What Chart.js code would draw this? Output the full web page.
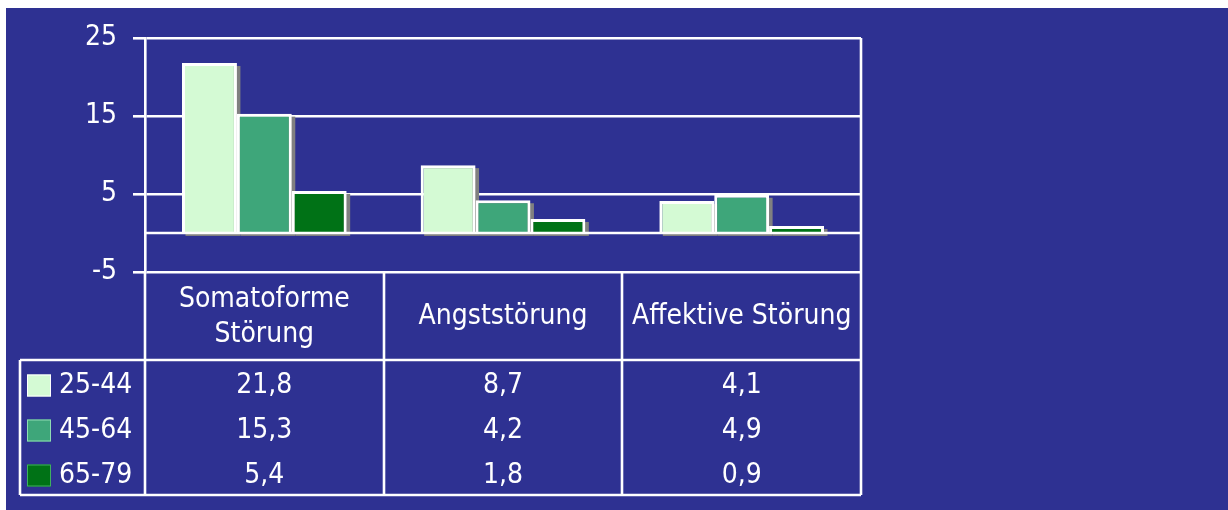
<!DOCTYPE html>
<html lang="de">
<head>
<meta charset="utf-8">
<title>Störungen nach Altersgruppe</title>
<script src="https://cdn.jsdelivr.net/npm/chart.js@4.4.0/dist/chart.umd.min.js"></script>
<style>
  body { margin: 0; background: #fff; }
  #wrap { position: absolute; left: 6px; top: 8px; width: 1222px; height: 502px; background: #2E3192; }
  #chart { display: block; }
</style>
</head>
<body>
<div id="wrap"><canvas id="chart" width="1222" height="502"></canvas></div>
<script>
// ── Data ──────────────────────────────────────────
const categories = [['Somatoforme', 'Störung'], ['Angststörung'], ['Affektive Störung']];
const ageGroups = ['25-44', '45-64', '65-79'];
const values2544 = [21.8, 8.7, 4.1];
const values4564 = [15.3, 4.2, 4.9];
const values6579 = [5.4, 1.8, 0.9];
const yMin = -5, yMax = 25, yStep = 10;

const seriesValues = [values2544, values4564, values6579];
const colors = ['#D4FAD4', '#3EA67A', '#007216'];
const swatchBorders = ['#ffffff', '#8fdcb4', '#3fb060'];

const FONT = '"DejaVu Sans Condensed", "DejaVu Sans", sans-serif';
const FONT_SIZE = 28;
const LINE_W = 2.6;
const HEADER_H = 88;
const ROW_H = 45;
const ROW_LEFT = 14;

function fmt(v) {
  return v.toFixed(1).replace('.', ',');
}

// ── Bar shadows ───────────────────────────────────
const shadowPlugin = {
  id: 'barShadow',
  beforeDatasetsDraw(chart) {
    const ctx = chart.ctx;
    ctx.save();
    ctx.fillStyle = '#808080';
    chart.data.datasets.forEach((ds, i) => {
      chart.getDatasetMeta(i).data.forEach(bar => {
        const p = bar.getProps(['x', 'y', 'base', 'width'], true);
        const top = Math.min(p.y, p.base);
        const h = Math.abs(p.base - p.y);
        ctx.fillRect(p.x - p.width / 2 + 3.5, top + 3, p.width, h);
      });
    });
    ctx.restore();
  }
};

// ── Zero line, frame and data table ───────────────
const tablePlugin = {
  id: 'dataTable',
  afterDatasetsDraw(chart) {
    const ctx = chart.ctx;
    const area = chart.chartArea;
    const y0 = Math.round(chart.scales.y.getPixelForValue(0));
    ctx.save();
    ctx.strokeStyle = '#ffffff';
    ctx.lineWidth = LINE_W;
    ctx.beginPath();
    ctx.moveTo(area.left, y0);
    ctx.lineTo(area.right, y0);
    ctx.stroke();
    ctx.restore();
  },
  afterDraw(chart) {
    const ctx = chart.ctx;
    const area = chart.chartArea;
    const xs = chart.scales.x;
    const top = Math.round(area.bottom);
    const headBottom = top + HEADER_H;
    const bottom = headBottom + ROW_H * ageGroups.length;
    const left = Math.round(area.left);
    const right = Math.round(area.right);
    const colW = (right - left) / categories.length;

    ctx.save();
    ctx.strokeStyle = '#ffffff';
    ctx.lineWidth = LINE_W;
    ctx.beginPath();
    // right edge of plot + table
    ctx.moveTo(right, area.top);
    ctx.lineTo(right, bottom);
    // axis continues down through the table
    ctx.moveTo(left, top);
    ctx.lineTo(left, bottom);
    // column separators
    for (let i = 1; i < categories.length; i++) {
      const x = Math.round(left + colW * i);
      ctx.moveTo(x, top);
      ctx.lineTo(x, bottom);
    }
    // header bottom and table bottom
    ctx.moveTo(ROW_LEFT, headBottom);
    ctx.lineTo(right, headBottom);
    ctx.moveTo(ROW_LEFT, bottom);
    ctx.lineTo(right, bottom);
    ctx.moveTo(ROW_LEFT, headBottom);
    ctx.lineTo(ROW_LEFT, bottom);
    ctx.stroke();

    ctx.fillStyle = '#ffffff';
    ctx.font = FONT_SIZE + 'px ' + FONT;
    ctx.textAlign = 'center';
    ctx.textBaseline = 'middle';

    // category header
    categories.forEach((lines, i) => {
      const cx = xs.getPixelForValue(i);
      const lineH = 35;
      const startY = top + HEADER_H / 2 - (lines.length - 1) * lineH / 2 + 1;
      lines.forEach((t, j) => ctx.fillText(t, cx, startY + j * lineH));
    });

    // data rows
    ageGroups.forEach((g, r) => {
      const cy = headBottom + ROW_H * (r + 0.5) + 3;
      ctx.fillStyle = colors[r];
      ctx.fillRect(ROW_LEFT + 7, cy - 11, 24, 22);
      ctx.strokeStyle = swatchBorders[r];
      ctx.lineWidth = 1;
      ctx.strokeRect(ROW_LEFT + 7.5, cy - 10.5, 23, 21);
      ctx.fillStyle = '#ffffff';
      ctx.textAlign = 'left';
      ctx.fillText(g, ROW_LEFT + 39, cy);
      ctx.textAlign = 'center';
      seriesValues[r].forEach((v, i) => {
        ctx.fillText(fmt(v), xs.getPixelForValue(i), cy);
      });
    });
    ctx.restore();
  }
};

// ── Chart ─────────────────────────────────────────
function buildChart() {
  const ctx = document.getElementById('chart').getContext('2d');
  return new Chart(ctx, {
    type: 'bar',
    data: {
      labels: categories.map(c => c.join(' ')),
      datasets: ageGroups.map((g, i) => ({
        label: g,
        data: seriesValues[i],
        backgroundColor: colors[i],
        borderColor: '#ffffff',
        borderWidth: 3,
        borderSkipped: 'start',
        barPercentage: 1,
        categoryPercentage: 0.69
      }))
    },
    options: {
      responsive: false,
      animation: false,
      layout: { padding: { top: 30, right: 367, bottom: 238, left: 0 } },
      plugins: {
        legend: { display: false },
        tooltip: { enabled: false }
      },
      scales: {
        x: { display: false },
        y: {
          min: yMin,
          max: yMax,
          afterFit(scale) { scale.width = 139; },
          ticks: {
            stepSize: yStep,
            color: '#ffffff',
            padding: 16,
            // lineHeight 1 keeps the label overhang inside the 30px top padding
            font: { family: FONT, size: FONT_SIZE, lineHeight: 1 }
          },
          grid: {
            color: '#ffffff',
            lineWidth: LINE_W,
            tickLength: 12
          },
          border: { display: true, color: '#ffffff', width: LINE_W }
        }
      }
    },
    plugins: [shadowPlugin, tablePlugin]
  });
}

window.onload = function() {
  buildChart();
};
</script>
</body>
</html>
